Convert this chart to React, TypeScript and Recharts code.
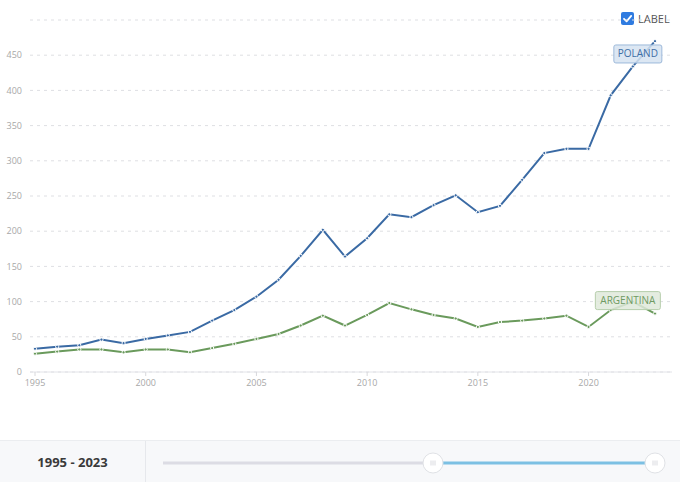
import React from "react";
import {
  LineChart,
  Line,
  XAxis,
  YAxis,
  CartesianGrid,
  LabelList,
} from "recharts";

const YEARS = [
  1995, 1996, 1997, 1998, 1999, 2000, 2001, 2002, 2003, 2004, 2005, 2006, 2007,
  2008, 2009, 2010, 2011, 2012, 2013, 2014, 2015, 2016, 2017, 2018, 2019, 2020,
  2021, 2022, 2023,
];

const POLAND = [
  33, 36, 38, 46, 41, 47, 52, 57, 73, 88, 107, 131, 165, 202, 164, 190, 224,
  220, 237, 251, 227, 236, 273, 311, 317, 317, 393, 434, 470,
];

const ARGENTINA = [
  26, 29, 32, 32, 28, 32, 32, 28, 34, 40, 47, 54, 66, 80, 66, 81, 98, 89, 81,
  76, 64, 71, 73, 76, 80, 64, 88, 100, 83,
];

const X_TICKS = [1995, 2000, 2005, 2010, 2015, 2020];
const Y_TICKS = [0, 50, 100, 150, 200, 250, 300, 350, 400, 450];

const FONT = "'Open Sans', sans-serif";
const BLUE = "#3a6aa4";
const GREEN = "#6a9a5c";

const data = YEARS.map((year, i) => ({
  year,
  poland: POLAND[i],
  argentina: ARGENTINA[i],
}));

// small dot with a white ring, gives the broken-line look
const makeDot = (color: string) => (props: any) => {
  const { cx, cy, index } = props;
  if (cx == null || cy == null) return <g key={index} />;
  return (
    <circle
      key={index}
      cx={cx}
      cy={cy}
      r={1.6}
      fill={color}
      stroke="#fff"
      strokeWidth={1}
    />
  );
};

// series name tag near the end of the line
const makeTag = (
  text: string,
  w: number,
  dx: number,
  dy: number,
  fill: string,
  border: string,
  color: string
) => (props: any) => {
  const { x, y, index } = props;
  if (index !== YEARS.length - 2) return null;
  const cx = x + dx;
  const cy = y + dy;
  return (
    <g>
      <rect
        x={cx - w / 2}
        y={cy - 9}
        width={w}
        height={18}
        rx={2}
        fill={fill}
        fillOpacity={0.85}
        stroke={border}
        strokeWidth={1}
      />
      <text
        x={cx}
        y={cy + 3.5}
        textAnchor="middle"
        fontSize={10}
        fontFamily={FONT}
        fill={color}
      >
        {text}
      </text>
    </g>
  );
};

function Slider() {
  return (
    <div
      style={{
        position: "absolute",
        left: 0,
        top: 440,
        width: 680,
        height: 42,
        background: "#f7f8fa",
        borderTop: "1px solid #ebedf0",
        boxSizing: "border-box",
        fontFamily: FONT,
      }}
    >
      <div
        style={{
          position: "absolute",
          left: 0,
          top: 0,
          width: 145,
          height: 41,
          borderRight: "1px solid #e6e8ec",
          display: "flex",
          alignItems: "center",
          justifyContent: "center",
          fontSize: 13,
          fontWeight: 700,
          color: "#3a3a3a",
        }}
      >
        1995 - 2023
      </div>
      <svg
        width={680}
        height={42}
        style={{ position: "absolute", left: 0, top: 0 }}
      >
        <line x1={163} y1={22} x2={433} y2={22} stroke="#dcdce4" strokeWidth={3} />
        <line x1={433} y1={22} x2={655} y2={22} stroke="#7cc0e3" strokeWidth={3} />
        {[433, 655].map((hx) => (
          <g key={hx}>
            <circle cx={hx} cy={22} r={10} fill="#fff" stroke="#e0e2e6" strokeWidth={1} />
            {[-2, 0, 2].map((o) => (
              <line
                key={o}
                x1={hx + o}
                y1={19.5}
                x2={hx + o}
                y2={24.5}
                stroke="#d0d2d8"
                strokeWidth={0.8}
              />
            ))}
          </g>
        ))}
      </svg>
    </div>
  );
}

export default function App() {
  return (
    <div
      style={{
        position: "absolute",
        left: 0,
        top: 0,
        width: 680,
        height: 482,
        background: "#fff",
        overflow: "hidden",
        fontFamily: FONT,
      }}
    >
      <div
        style={{
          position: "absolute",
          left: 621,
          top: 11,
          display: "flex",
          alignItems: "center",
          fontSize: 11,
          color: "#555",
        }}
      >
        <svg width={13} height={13} style={{ marginRight: 4 }}>
          <rect x={0} y={0} width={13} height={13} rx={2} fill="#2f7be0" />
          <path
            d="M3 6.8 L5.6 9.3 L10.2 3.9"
            fill="none"
            stroke="#fff"
            strokeWidth={1.8}
            strokeLinecap="round"
            strokeLinejoin="round"
          />
        </svg>
        LABEL
      </div>

      <LineChart
        width={680}
        height={400}
        data={data}
        margin={{ top: 20, right: 8, bottom: 0, left: 0 }}
      >
        <CartesianGrid
          vertical={false}
          stroke="#dedfe3"
          strokeDasharray="3 4"
        />
        <XAxis
          dataKey="year"
          type="number"
          domain={[1995, 2023]}
          ticks={X_TICKS}
          height={28}
          padding={{ left: 5, right: 17 }}
          tick={{ fontSize: 9, fill: "#a8a8a8", fontFamily: FONT }}
          tickSize={4}
          tickMargin={4}
          tickLine={{ stroke: "#d8d8dc" }}
          axisLine={{ stroke: "#e2e3e8" }}
        />
        <YAxis
          domain={[0, 500]}
          ticks={Y_TICKS}
          width={30}
          tick={{ fontSize: 9, fill: "#a8a8a8", fontFamily: FONT }}
          tickLine={false}
          axisLine={false}
        />
        <Line
          type="linear"
          dataKey="argentina"
          stroke={GREEN}
          strokeWidth={2}
          dot={makeDot(GREEN)}
          activeDot={false}
          isAnimationActive={false}
        >
          <LabelList
            dataKey="argentina"
            content={makeTag("ARGENTINA", 65, -5, -1, "#dfe9da", "#b6ceac", "#6f9a63")}
          />
        </Line>
        <Line
          type="linear"
          dataKey="poland"
          stroke={BLUE}
          strokeWidth={2}
          dot={makeDot(BLUE)}
          activeDot={false}
          isAnimationActive={false}
        >
          <LabelList
            dataKey="poland"
            content={makeTag("POLAND", 48, 5, -12.5, "#d6e3f1", "#9db9da", "#3f6fa6")}
          />
        </Line>
      </LineChart>

      <Slider />
    </div>
  );
}
